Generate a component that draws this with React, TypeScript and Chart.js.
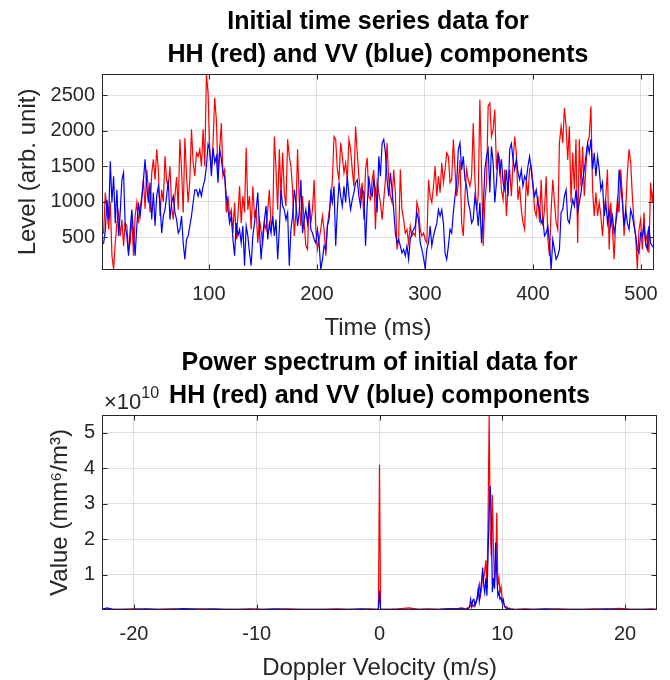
import React, { useEffect, useRef } from 'react';
import { Chart, registerables } from 'chart.js';
Chart.register(...registerables);

// ---------- Top panel: time series (arb. unit), evenly sampled over 1..512 ms ----------
const hhLevel: number[] = [
  570, 560, 1130, 890, 610, 1000, 240, 50, 420, 700, 850, 520, 750, 380, 700, 660, 300, 420, 780, 240,
  800, 990, 700, 900, 1080, 1310, 900, 1450, 1170, 850, 1400, 1600, 1310, 1740, 1450, 800, 1170, 1000, 1640, 1300,
  1220, 1500, 940, 750, 1080, 1350, 890, 1880, 1450, 850, 1900, 1360, 990, 1310, 2020, 1550, 1360,
  1690, 1640, 1740, 1500, 2020, 1500, 2800, 2530, 1690, 1450, 1830, 2460, 2160, 1360, 1740, 2110, 1360, 1450, 850, 1080,
  800, 890, 560, 990, 470, 800, 1220, 700, 1080, 850, 1760, 890, 1080, 610, 1220, 800, 890, 420, 750, 600,
  420, 700, 610, 890, 1170, 660, 750, 1920, 1450, 890, 1740, 1080, 1690, 1130, 940,
  1880, 1640, 1500, 1170, 520, 850, 1740, 1030, 660, 1080, 700, 380, 330, 1030, 700, 890, 1310, 610, 330, 470,
  610, 800, 610, 240, 660, 850, 990, 1310, 1920, 1880, 1450, 1310, 1830, 1640, 1410, 1550, 1310, 1880, 1740, 1450,
  1220, 2060, 1690, 1360, 1080, 1270, 750, 1450, 1620, 1080, 1030, 1310, 1450, 610, 1270,
  1130, 990, 750, 1030, 1310, 1830, 1310, 1080, 990, 1455, 1130, 330, 470, 1455, 890, 750, 560, 610, 420, 660,
  520, 560, 520, 990, 890, 610, 520, 560, 470, 420, 1310, 1080, 990, 1220, 1500, 1080, 1360, 1130, 1550, 1270,
  1455, 1690, 1640, 1270, 1310, 1880, 1455, 1080, 1270, 1590, 700, 520, 1080, 1455, 1310, 1220,
  1360, 2110, 1310, 890, 1080, 2440, 1455, 380, 990, 1270, 2350, 2390, 1920, 2020, 2300, 1455, 1690, 1590, 1170, 1030,
  1455, 800, 1220, 1455, 1080, 1550, 1920, 1690, 1030, 1220, 890, 710, 610, 1310, 1080, 1455, 1500, 1270, 890, 800,
  1080, 710, 1310, 660, 890, 1360, 470, 240, 890, 1310, 990, 710, 610, 1830, 2060,
  1830, 2320, 2060, 1590, 2060, 990, 1690, 1170, 1880, 420, 1880, 1220, 1780, 1080, 1500, 1830, 1920, 2345, 1170, 800,
  1130, 800, 990, 800, 520, 890, 1080, 1455, 330, 990, 610, 190, 750, 1030, 850, 1455, 1080, 520, 890, 1410,
  1740, 1550, 1080, 710, 520, 50, 610, 750, 330, 850, 420, 560, 280, 1270, 1000, 1250,
];

const vvLevel: number[] = [
  400, 420, 600, 1030, 750, 1570, 990, 1360, 700, 1170, 520, 850, 1310, 1410, 660, 520, 240, 600, 890, 560,
  240, 660, 990, 800, 1030, 1310, 1600, 1220, 990, 1270, 750, 1130, 660, 1080, 1220, 990, 560, 800, 890, 1080,
  1310, 750, 990, 1080, 850, 750, 560, 610, 800, 420, 190, 470, 520, 660, 800, 990, 1170,
  1170, 1080, 1170, 1080, 1220, 1310, 1500, 1810, 1740, 1360, 1760, 1550, 1640, 1270, 1740, 1600, 1410, 1360, 1080, 890,
  700, 800, 470, 240, 700, 520, 610, 420, 660, 100, 660, 520, 280, 100, 520, 700, 890, 1130, 610, 190,
  520, 750, 940, 470, 700, 560, 800, 520, 750, 190, 610, 1170, 940, 890, 750,
  850, 100, 610, 800, 1170, 990, 660, 850, 1310, 560, 750, 890, 700, 990, 610, 560, 470, 420, 610, 420,
  40, 190, 380, 330, 660, 750, 1130, 990, 1220, 380, 890, 1270, 1080, 940, 1220, 990, 1360, 1080, 890, 1030,
  1130, 1270, 1310, 1080, 940, 1170, 1130, 380, 940, 1360, 1130, 1080, 1310, 1170, 850,
  1640, 1360, 1820, 1880, 1690, 1310, 1080, 1410, 1170, 890, 560, 420, 470, 380, 280, 330, 240, 380, 190, 470,
  560, 610, 660, 850, 750, 420, 330, 210, 60, 330, 420, 660, 380, 520, 610, 700, 890, 800, 890, 700,
  280, 190, 380, 610, 560, 850, 1080, 1270, 1740, 1830, 1450, 1640, 1310, 1220, 990, 890,
  700, 750, 1080, 940, 660, 990, 420, 890, 1450, 1640, 1740, 1130, 1780, 1550, 990, 1270, 1690, 1410, 1600, 1270,
  1170, 1450, 1080, 1740, 1820, 1600, 1450, 1600, 1410, 1310, 1450, 1220, 1360, 1310, 1500, 1640, 1450, 1220, 1080, 1170,
  990, 890, 700, 750, 520, 560, 660, 420, 45, 470, 330, 190, 240, 330, 850,
  890, 1080, 1170, 750, 700, 890, 1030, 940, 1170, 850, 990, 1130, 1310, 1455, 1640, 1820, 1690, 1880, 1455, 1690,
  1360, 1640, 1455, 1170, 1270, 800, 990, 700, 890, 660, 800, 560, 700, 890, 1455, 1220, 990, 660, 890, 700,
  610, 890, 800, 660, 520, 330, 280, 560, 520, 660, 420, 330, 660, 420, 380, 350,
];

const timeStart = 1;
const timeEnd = 512;
const levelMin = 40;
const levelMax = 2800;
const timeTicks = [100, 200, 300, 400, 500];
const levelTicks = [500, 1000, 1500, 2000, 2500];

// ---------- Bottom panel: power spectrum (values in units of 1e10 mm^6/m^3) ----------
const dopplerVelocity: number[] = [
  -22.6, -22.2, -21.7, -21.0, -20.0, -19.0, -18.0, -17.0, -16.0, -15.3, -14.5, -13.5, -12.5, -11.5, -10.5, -9.5,
  -8.5, -7.5, -6.5, -5.5, -4.5, -3.5, -2.5, -1.5, -0.8,
  -0.18, -0.09, 0, 0.09, 0.18,
  0.8, 1.5, 2.4, 3.2, 4.0, 4.8, 5.5, 6.0, 6.4, 6.7,
  6.98, 7.07, 7.16, 7.25, 7.33, 7.42, 7.51, 7.60, 7.69, 7.78, 7.87, 7.95, 8.04, 8.13, 8.22, 8.31,
  8.40, 8.49, 8.57, 8.66, 8.75, 8.84, 8.93, 9.02, 9.11, 9.19, 9.28, 9.37, 9.46, 9.55, 9.64, 9.73,
  9.81, 9.90, 9.99, 10.08, 10.17, 10.26, 10.35, 10.43, 10.52, 10.61, 10.70, 10.79, 10.88, 10.97,
  11.3, 11.8, 12.5, 13.5, 14.5, 15.5, 16.5, 17.5, 18.5, 19.5, 20.5, 21.5, 22.1, 22.6,
];

const hhPower: number[] = [
  0.02, 0.03, 0.02, 0.02, 0.03, 0.02, 0.02, 0.03, 0.02, 0.02, 0.03, 0.02, 0.02, 0.02, 0.03, 0.02,
  0.02, 0.03, 0.02, 0.02, 0.02, 0.03, 0.02, 0.02, 0.03,
  0.02, 0.03, 4.1, 0.04, 0.02,
  0.02, 0.03, 0.06, 0.02, 0.03, 0.02, 0.03, 0.04, 0.05, 0.06,
  0.03, 0.04, 0.06, 0.05, 0.1, 0.12, 0.08, 0.15, 0.1, 0.2, 0.25, 0.3, 0.5, 0.72, 0.4, 0.6,
  1.0, 0.9, 1.1, 1.4, 0.6, 2.5, 5.5, 2.2, 1.5, 3.25, 1.8, 0.8, 1.2, 2.74, 0.7, 0.9,
  0.5, 0.65, 0.3, 0.2, 0.12, 0.08, 0.1, 0.06, 0.04, 0.05, 0.03, 0.02, 0.03, 0.02,
  0.02, 0.03, 0.02, 0.02, 0.03, 0.02, 0.02, 0.03, 0.02, 0.05, 0.02, 0.02, 0.03, 0.02,
];

const vvPower: number[] = [
  0.02, 0.06, 0.02, 0.02, 0.02, 0.03, 0.02, 0.02, 0.04, 0.03, 0.02, 0.03, 0.02, 0.02, 0.02, 0.02,
  0.03, 0.02, 0.02, 0.02, 0.02, 0.02, 0.02, 0.03, 0.02,
  0.02, 0.03, 0.55, 0.03, 0.02,
  0.02, 0.02, 0.02, 0.02, 0.02, 0.02, 0.03, 0.03, 0.03, 0.04,
  0.02, 0.03, 0.03, 0.05, 0.08, 0.3, 0.1, 0.28, 0.3, 0.12, 0.2, 0.35, 0.6, 0.25, 0.5, 0.8,
  1.2, 0.7, 0.5, 0.9, 0.4, 1.5, 2.8, 3.5, 2.5, 0.5, 0.9, 0.6, 1.9, 1.0, 0.4, 0.5,
  0.3, 0.35, 0.2, 0.3, 0.12, 0.06, 0.05, 0.04, 0.03, 0.03, 0.02, 0.02, 0.02, 0.01,
  0.02, 0.02, 0.02, 0.03, 0.02, 0.02, 0.02, 0.02, 0.03, 0.02, 0.02, 0.02, 0.02, 0.02,
];

const velocityMin = -22.6;
const velocityMax = 22.6;
const powerMin = 0;
const powerMax = 5.5;
const velocityTicks = [-20, -10, 0, 10, 20];
const powerTicks = [1, 2, 3, 4, 5];

// ---------- styling ----------
const FONT = "'Liberation Sans', Arial, Helvetica, sans-serif";
const AXIS_COLOR = '#262626';
const GRID_COLOR = 'rgba(38,38,38,0.15)';
const RED = '#ff0000';
const BLUE = '#0000ff';
const W = 670;
const H = 340;

const matlabAxes = {
  id: 'matlabAxes',
  afterDraw(chart: any, _args: any, opts: any) {
    const { ctx, chartArea: a, scales } = chart;
    const L = Math.round(a.left) + 0.5;
    const R = Math.round(a.right) - 0.5;
    const T = Math.round(a.top) + 0.5;
    const B = Math.round(a.bottom) - 0.5;
    const tl = 5;
    ctx.save();
    ctx.strokeStyle = AXIS_COLOR;
    ctx.lineWidth = 1;
    ctx.beginPath();
    scales.x.ticks.forEach((t: any) => {
      const px = Math.round(scales.x.getPixelForValue(t.value)) + 0.5;
      ctx.moveTo(px, B);
      ctx.lineTo(px, B - tl);
      ctx.moveTo(px, T);
      ctx.lineTo(px, T + tl);
    });
    scales.y.ticks.forEach((t: any) => {
      const py = Math.round(scales.y.getPixelForValue(t.value)) + 0.5;
      ctx.moveTo(L, py);
      ctx.lineTo(L + tl, py);
      ctx.moveTo(R, py);
      ctx.lineTo(R - tl, py);
    });
    ctx.stroke();
    ctx.strokeRect(L, T, R - L, B - T);
    if (opts && opts.exponent) {
      ctx.fillStyle = AXIS_COLOR;
      ctx.textBaseline = 'alphabetic';
      ctx.textAlign = 'left';
      ctx.font = `22px ${FONT}`;
      const base = '\u00d710';
      ctx.fillText(base, a.left + 2, a.top - 6);
      const w = ctx.measureText(base).width;
      ctx.font = `16px ${FONT}`;
      ctx.fillText(opts.exponent, a.left + 2 + w, a.top - 17);
    }
    ctx.restore();
  },
};

function makeOptions(p: {
  title: string[];
  titlePadTop: number;
  titlePadBottom: number;
  xTitle: string;
  yTitle: string;
  yTitlePad: number;
  xMin: number;
  xMax: number;
  yMin: number;
  yMax: number;
  xTicks: number[];
  yTicks: number[];
  exponent?: string;
}) {
  return {
    responsive: false,
    animation: false as const,
    devicePixelRatio: 1,
    layout: { padding: { left: 0, right: 13, top: 0, bottom: 0 } },
    plugins: {
      legend: { display: false },
      tooltip: { enabled: false },
      title: {
        display: true,
        text: p.title,
        fullSize: false,
        color: '#000000',
        font: { family: FONT, size: 25, weight: 'bold' as const, lineHeight: 1.33 },
        padding: { top: p.titlePadTop, bottom: p.titlePadBottom },
      },
      matlabAxes: { exponent: p.exponent },
    },
    scales: {
      x: {
        type: 'linear' as const,
        min: p.xMin,
        max: p.xMax,
        afterBuildTicks: (scale: any) => {
          scale.ticks = p.xTicks.map((v) => ({ value: v }));
        },
        afterFit: (scale: any) => {
          scale.height = 70;
        },
        grid: { color: GRID_COLOR, drawTicks: false, lineWidth: 1 },
        border: { display: false },
        ticks: {
          color: AXIS_COLOR,
          font: { family: FONT, size: 20, lineHeight: 1.2 },
          padding: 12,
          maxRotation: 0,
          autoSkip: false,
          callback: (v: any) => String(v),
        },
        title: {
          display: true,
          text: p.xTitle,
          color: AXIS_COLOR,
          font: { family: FONT, size: 24, lineHeight: 1.0 },
          padding: { top: 0, bottom: 0 },
        },
      },
      y: {
        type: 'linear' as const,
        min: p.yMin,
        max: p.yMax,
        afterBuildTicks: (scale: any) => {
          scale.ticks = p.yTicks.map((v) => ({ value: v }));
        },
        afterFit: (scale: any) => {
          scale.width = 102;
        },
        grid: { color: GRID_COLOR, drawTicks: false, lineWidth: 1 },
        border: { display: false },
        ticks: {
          color: AXIS_COLOR,
          font: { family: FONT, size: 20, lineHeight: 1.2 },
          padding: 7,
          autoSkip: false,
          callback: (v: any) => String(v),
        },
        title: {
          display: true,
          text: p.yTitle,
          color: AXIS_COLOR,
          font: { family: FONT, size: 24, lineHeight: 1.0 },
          padding: { top: p.yTitlePad, bottom: 0 },
        },
      },
    },
  };
}

function evenTimes(values: number[]) {
  const step = (timeEnd - timeStart) / (values.length - 1);
  return values.map((v, i) => ({ x: timeStart + i * step, y: v }));
}

function pairs(xs: number[], ys: number[]) {
  return xs.map((x, i) => ({ x, y: ys[i] }));
}

export default function App() {
  const topRef = useRef<HTMLCanvasElement>(null);
  const botRef = useRef<HTMLCanvasElement>(null);

  useEffect(() => {
    const lineStyle = { pointRadius: 0, borderWidth: 1.2, tension: 0, fill: false, spanGaps: false };
    const top = new Chart(topRef.current as HTMLCanvasElement, {
      type: 'line',
      data: {
        datasets: [
          { label: 'HH', data: evenTimes(hhLevel), borderColor: RED, order: 2, ...lineStyle },
          { label: 'VV', data: evenTimes(vvLevel), borderColor: BLUE, order: 1, ...lineStyle },
        ],
      },
      options: makeOptions({
        title: ['Initial time series data for', 'HH (red) and VV (blue) components'],
        titlePadTop: 5.5,
        titlePadBottom: 2,
        xTitle: 'Time (ms)',
        yTitle: 'Level (arb. unit)',
        yTitlePad: 16,
        xMin: timeStart,
        xMax: timeEnd,
        yMin: levelMin,
        yMax: levelMax,
        xTicks: timeTicks,
        yTicks: levelTicks,
      }) as any,
      plugins: [matlabAxes as any],
    });
    const bot = new Chart(botRef.current as HTMLCanvasElement, {
      type: 'line',
      data: {
        datasets: [
          { label: 'HH', data: pairs(dopplerVelocity, hhPower), borderColor: RED, order: 2, ...lineStyle },
          { label: 'VV', data: pairs(dopplerVelocity, vvPower), borderColor: BLUE, order: 1, ...lineStyle },
        ],
      },
      options: makeOptions({
        title: ['Power spectrum of initial data for', 'HH (red) and VV (blue) components'],
        titlePadTop: 6.5,
        titlePadBottom: 2,
        xTitle: 'Doppler Velocity (m/s)',
        yTitle: 'Value (mm\u2076/m\u00b3)',
        yTitlePad: 48,
        xMin: velocityMin,
        xMax: velocityMax,
        yMin: powerMin,
        yMax: powerMax,
        xTicks: velocityTicks,
        yTicks: powerTicks,
        exponent: '10',
      }) as any,
      plugins: [matlabAxes as any],
    });
    return () => {
      top.destroy();
      bot.destroy();
    };
  }, []);

  return (
    <div style={{ position: 'absolute', left: 0, top: 0, width: W, height: 2 * H, background: '#ffffff' }}>
      <canvas ref={topRef} width={W} height={H} style={{ display: 'block', width: W, height: H }} />
      <canvas ref={botRef} width={W} height={H} style={{ display: 'block', width: W, height: H }} />
    </div>
  );
}
